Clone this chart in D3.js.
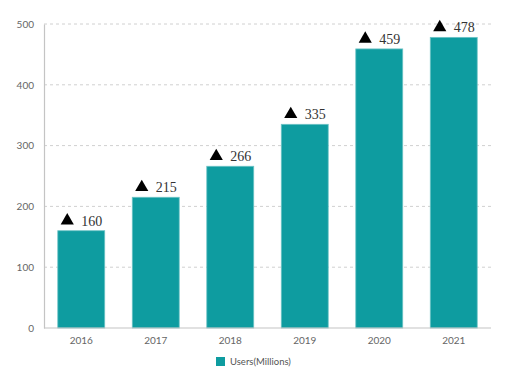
<!DOCTYPE html>
<html><head><meta charset="utf-8">
<script src="https://cdn.jsdelivr.net/npm/d3@7"></script>
<style>body{margin:0;background:#fff}</style>
</head><body><svg id="c" width="512" height="376"></svg>
<script>
const categories = ["2016","2017","2018","2019","2020","2021"];
const users = [160,215,266,335,459,478];
const yTicks = [0,100,200,300,400,500];
const seriesName = "Users(Millions)";

const svg = d3.select("#c");
const m = {l:44, r:21, t:24, b:48};
const W = 512, H = 376;
const x = d3.scaleBand().domain(categories).range([m.l, W-m.r]).paddingInner(0.37).paddingOuter(0.185);
const y = d3.scaleLinear().domain([0,500]).range([H-m.b, m.t]);

svg.append("g").selectAll("line").data(yTicks.filter(d=>d>0)).join("line")
  .attr("x1", m.l).attr("x2", W-m.r)
  .attr("y1", d=>y(d)).attr("y2", d=>y(d))
  .attr("stroke","#d0d0d0").attr("stroke-dasharray","3,3");

svg.append("g").selectAll("rect").data(users).join("rect")
  .attr("x",(d,i)=>x(categories[i])).attr("width",x.bandwidth())
  .attr("y",d=>y(d)).attr("height",d=>y(0)-y(d))
  .attr("fill","#0e9ca0").attr("stroke","#6cc3c5").attr("stroke-width",0.8);

const ya = d3.axisLeft(y).tickValues(yTicks).tickSize(0).tickPadding(10);
const yg = svg.append("g").attr("transform",`translate(${m.l},0)`).call(ya);
const xa = d3.axisBottom(x).tickSize(0).tickPadding(9);
const xg = svg.append("g").attr("transform",`translate(0,${y(0)})`).call(xa);
[yg,xg].forEach(g=>{
  g.select(".domain").attr("stroke","#c4c4c4").attr("stroke-width",1.2);
  g.selectAll("text").attr("font-family","Lato").attr("font-size",10).attr("fill","#666");
});
xg.select(".domain").attr("d",`M${m.l},0H${W-m.r}`);

const lab = svg.append("g").selectAll("g").data(users).join("g")
  .attr("transform",(d,i)=>`translate(${x(categories[i])+x.bandwidth()/2},${y(d)-5})`);
lab.append("path").attr("d",d3.symbol(d3.symbolTriangle,75)).attr("transform","translate(-14,-5)").attr("fill","#000");
lab.append("text").text(d=>d).attr("x",0).attr("font-family","Liberation Serif").attr("font-size",14).attr("fill","#333");

const lg = svg.append("g").attr("transform","translate(216,357)");
lg.append("rect").attr("width",9).attr("height",9).attr("fill","#0e9ca0");
lg.append("text").text(seriesName).attr("x",14).attr("y",8).attr("font-family","Lato").attr("font-size",9.5).attr("fill","#555");
</script></body></html>
